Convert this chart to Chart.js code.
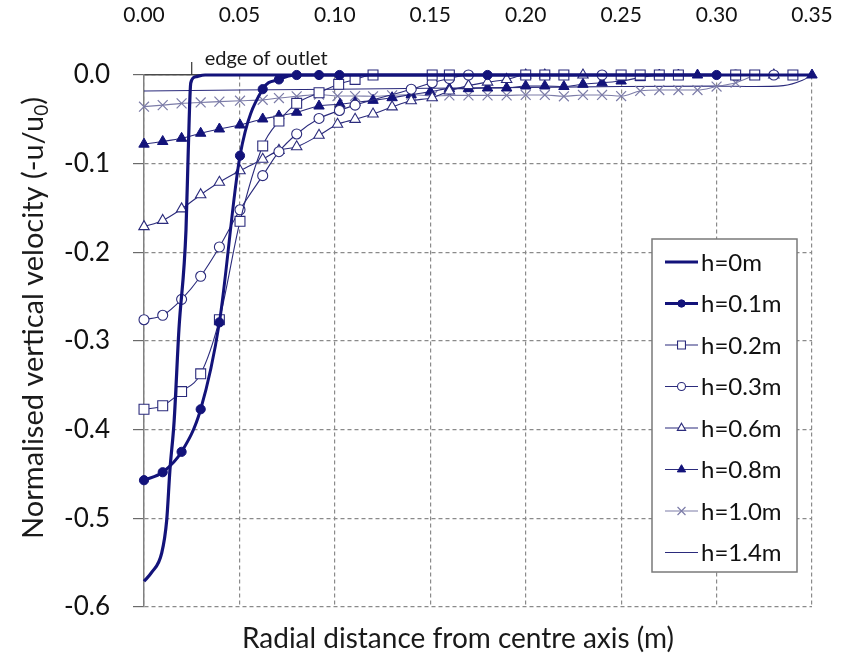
<!DOCTYPE html>
<html>
<head>
<meta charset="utf-8">
<script src="https://cdn.jsdelivr.net/npm/chart.js@4.4.1/dist/chart.umd.min.js"></script>
<style>
  html, body { margin: 0; padding: 0; background: #ffffff; }
  #wrap { width: 846px; height: 662px; }
</style>
</head>
<body>
<div id="wrap"><canvas id="c" width="846" height="662"></canvas></div>
<script>
// ---------- data ----------
const xTickLabels = ['0.00','0.05','0.10','0.15','0.20','0.25','0.30','0.35'];
const yTickLabels = ['0.0','-0.1','-0.2','-0.3','-0.4','-0.5','-0.6'];
const seriesNames = ['h=0m','h=0.1m','h=0.2m','h=0.3m','h=0.6m','h=0.8m','h=1.0m','h=1.4m'];
const xTitle = 'Radial distance from centre axis (m)';
const yTitleMain = 'Normalised vertical velocity (-u/u';
const yTitleSub = '0';
const yTitleEnd = ')';
const edgeLabel = 'edge of outlet';
const edgeX = 0.025;

const h00X = [0, 0.004, 0.0093, 0.0119, 0.0136, 0.0158, 0.0183, 0.022, 0.0232, 0.0245, 0.027, 0.032, 0.06, 0.35];
const h00Y = [-0.571, -0.561, -0.539, -0.502, -0.445, -0.39, -0.287, -0.175, -0.085, -0.009, -0.002, 0, 0, 0];

const h01X = [0, 0.0098, 0.0197, 0.0297, 0.0395, 0.0503, 0.0622, 0.0707, 0.080, 0.0917, 0.1024, 0.18, 0.30];
const h01Y = [-0.457, -0.448, -0.425, -0.377, -0.279, -0.091, -0.016, -0.005, 0, 0, 0, 0, 0];

const h02X = [0, 0.0098, 0.0197, 0.0297, 0.0395, 0.0503, 0.0622, 0.0707, 0.080, 0.0917, 0.102, 0.1106, 0.12, 0.151, 0.16, 0.20, 0.21, 0.22, 0.25, 0.26, 0.27, 0.28, 0.31, 0.32, 0.34];
const h02Y = [-0.377, -0.373, -0.357, -0.337, -0.276, -0.165, -0.080, -0.052, -0.032, -0.020, -0.0105, -0.005, 0, 0, 0, 0, 0, 0, 0, 0, 0, 0, 0, 0, 0];

const h03X = [0, 0.0098, 0.0197, 0.0297, 0.0395, 0.0503, 0.0622, 0.0707, 0.080, 0.0917, 0.1024, 0.1106, 0.140, 0.151, 0.160, 0.170, 0.24, 0.31, 0.33];
const h03Y = [-0.276, -0.271, -0.253, -0.227, -0.194, -0.152, -0.1135, -0.0865, -0.0665, -0.049, -0.040, -0.034, -0.016, -0.0087, -0.004, 0, 0, 0, 0];

const h06X = [0, 0.0098, 0.0197, 0.0297, 0.0395, 0.0503, 0.0622, 0.0707, 0.080, 0.0917, 0.1014, 0.1106, 0.12, 0.13, 0.14, 0.151, 0.16, 0.17, 0.18, 0.19, 0.20, 0.21, 0.23, 0.33];
const h06Y = [-0.171, -0.164, -0.151, -0.135, -0.121, -0.108, -0.095, -0.085, -0.081, -0.068, -0.0556, -0.050, -0.044, -0.036, -0.029, -0.0256, -0.018, -0.012, -0.008, -0.005, 0, 0, 0, 0];

const h08X = [0, 0.0098, 0.0197, 0.0297, 0.0395, 0.0503, 0.0622, 0.0707, 0.080, 0.0917, 0.1027, 0.1106, 0.12, 0.13, 0.14, 0.15, 0.16, 0.17, 0.18, 0.19, 0.20, 0.21, 0.22, 0.23, 0.24, 0.25, 0.26, 0.27, 0.28, 0.29, 0.35];
const h08Y = [-0.078, -0.075, -0.0714, -0.0657, -0.0609, -0.0564, -0.0496, -0.0462, -0.042, -0.035, -0.033, -0.031, -0.0286, -0.0256, -0.022, -0.019, -0.0154, -0.0154, -0.0146, -0.0146, -0.0124, -0.0124, -0.013, -0.0105, -0.0087, -0.0068, -0.003, 0, 0, 0, 0];

const h10X = [0, 0.0098, 0.0197, 0.0297, 0.0395, 0.0503, 0.0622, 0.0707, 0.080, 0.0917, 0.1014, 0.1106, 0.12, 0.13, 0.14, 0.151, 0.16, 0.17, 0.18, 0.19, 0.20, 0.21, 0.22, 0.23, 0.24, 0.25, 0.26, 0.27, 0.28, 0.29, 0.30, 0.31, 0.32];
const h10Y = [-0.0357, -0.034, -0.032, -0.031, -0.030, -0.029, -0.028, -0.026, -0.024, -0.022, -0.0237, -0.0237, -0.024, -0.023, -0.022, -0.0237, -0.023, -0.023, -0.023, -0.023, -0.0225, -0.0225, -0.024, -0.0225, -0.0225, -0.0237, -0.018, -0.017, -0.017, -0.017, -0.013, -0.0087, 0];

const h14X = [0, 0.05, 0.10, 0.15, 0.20, 0.25, 0.30, 0.32, 0.335, 0.345, 0.35];
const h14Y = [-0.018, -0.017, -0.016, -0.015, -0.014, -0.013, -0.0125, -0.013, -0.012, -0.006, 0];

// ---------- styling ----------
const NAVY = '#13137a';
const THIN = '#2b2b7c';
const XCOL = '#7c7ca8';
const FONT = 'Lato, "Open Sans", "DejaVu Sans", sans-serif';

function pts(xs, ys) { return xs.map((v, i) => ({ x: v, y: ys[i] })); }

const styles = [
  { data: pts(h00X, h00Y), borderColor: NAVY, borderWidth: 3.2, pointRadius: 0, pointStyle: false },
  { data: pts(h01X, h01Y), borderColor: NAVY, borderWidth: 3, pointStyle: 'circle', pointRadius: 4.6, pointBackgroundColor: NAVY, pointBorderColor: NAVY, pointBorderWidth: 1 },
  { data: pts(h02X, h02Y), borderColor: THIN, borderWidth: 1.1, pointStyle: 'rect', pointRadius: 7, pointBackgroundColor: '#ffffff', pointBorderColor: THIN, pointBorderWidth: 1.1 },
  { data: pts(h03X, h03Y), borderColor: THIN, borderWidth: 1.1, pointStyle: 'circle', pointRadius: 5, pointBackgroundColor: '#ffffff', pointBorderColor: THIN, pointBorderWidth: 1.1 },
  { data: pts(h06X, h06Y), borderColor: THIN, borderWidth: 1.1, pointStyle: 'triangle', pointRadius: 6, pointBackgroundColor: '#ffffff', pointBorderColor: THIN, pointBorderWidth: 1.1 },
  { data: pts(h08X, h08Y), borderColor: THIN, borderWidth: 1.1, pointStyle: 'triangle', pointRadius: 6, pointBackgroundColor: NAVY, pointBorderColor: NAVY, pointBorderWidth: 1 },
  { data: pts(h10X, h10Y), borderColor: XCOL, borderWidth: 1.1, pointStyle: 'crossRot', pointRadius: 7, pointBackgroundColor: XCOL, pointBorderColor: XCOL, pointBorderWidth: 1.2 },
  { data: pts(h14X, h14Y), borderColor: THIN, borderWidth: 1.1, pointRadius: 0, pointStyle: false }
];

const datasets = styles.map((s, i) => Object.assign({
  label: seriesNames[i],
  showLine: true,
  fill: false,
  cubicInterpolationMode: 'monotone',
  clip: false,
  pointHoverRadius: 0
}, s));

// ---------- drawing helpers for the legend ----------
function marker(ctx, style, r, x, y, fillCol, strokeCol, lw) {
  ctx.save();
  ctx.fillStyle = fillCol; ctx.strokeStyle = strokeCol; ctx.lineWidth = lw;
  ctx.beginPath();
  if (style === 'circle') {
    ctx.arc(x, y, r, 0, Math.PI * 2);
    ctx.fill(); ctx.stroke();
  } else if (style === 'rect') {
    const s = r * Math.SQRT1_2;
    ctx.rect(x - s, y - s, 2 * s, 2 * s);
    ctx.fill(); ctx.stroke();
  } else if (style === 'triangle') {
    ctx.moveTo(x, y - r);
    ctx.lineTo(x + r * 0.866, y + r * 0.5);
    ctx.lineTo(x - r * 0.866, y + r * 0.5);
    ctx.closePath();
    ctx.fill(); ctx.stroke();
  } else if (style === 'crossRot') {
    const s = r * Math.SQRT1_2;
    ctx.moveTo(x - s, y - s); ctx.lineTo(x + s, y + s);
    ctx.moveTo(x - s, y + s); ctx.lineTo(x + s, y - s);
    ctx.stroke();
  }
  ctx.restore();
}

const overlay = {
  id: 'overlay',
  afterDraw(chart) {
    const { ctx, chartArea, scales } = chart;
    const xs = scales.x;
    ctx.save();

    // edge of outlet marker
    const ex = xs.getPixelForValue(edgeX);
    ctx.strokeStyle = '#333333';
    ctx.lineWidth = 1.2;
    ctx.beginPath();
    ctx.moveTo(ex, chartArea.top - 13);
    ctx.lineTo(ex, chartArea.top);
    ctx.stroke();
    ctx.fillStyle = '#1a1a1a';
    ctx.font = '20px ' + FONT;
    ctx.textAlign = 'left';
    ctx.textBaseline = 'alphabetic';
    ctx.fillText(edgeLabel, ex + 13, chartArea.top - 10);

    // x title (bottom)
    ctx.font = '28px ' + FONT;
    ctx.textAlign = 'center';
    ctx.textBaseline = 'middle';
    ctx.fillText(xTitle, 458, 639);

    // y title (rotated, with subscript)
    ctx.save();
    ctx.translate(31, 318);
    ctx.rotate(-Math.PI / 2);
    const mainFont = '29px ' + FONT;
    const subFont = '19px ' + FONT;
    ctx.font = mainFont;
    const w1 = ctx.measureText(yTitleMain).width;
    const w3 = ctx.measureText(yTitleEnd).width;
    ctx.font = subFont;
    const w2 = ctx.measureText(yTitleSub).width;
    let sx = -(w1 + w2 + w3) / 2;
    ctx.textAlign = 'left';
    ctx.textBaseline = 'alphabetic';
    ctx.font = mainFont;
    ctx.fillText(yTitleMain, sx, 12);
    sx += w1;
    ctx.font = subFont;
    ctx.fillText(yTitleSub, sx, 17);
    sx += w2;
    ctx.font = mainFont;
    ctx.fillText(yTitleEnd, sx, 12);
    ctx.restore();

    // legend box
    const bx = chartArea.right - 160, by = chartArea.top + 164, bw = 145, bh = 333;
    ctx.fillStyle = '#ffffff';
    ctx.fillRect(bx, by, bw, bh);
    ctx.strokeStyle = '#7a7a7a';
    ctx.lineWidth = 1.5;
    ctx.strokeRect(bx, by, bw, bh);
    const rowH = 41.5;
    chart.data.datasets.forEach((ds, i) => {
      const cy = by + 23 + i * rowH;
      const lx1 = bx + 13, lx2 = bx + 46;
      ctx.strokeStyle = ds.borderColor;
      ctx.lineWidth = ds.borderWidth;
      ctx.beginPath();
      ctx.moveTo(lx1, cy); ctx.lineTo(lx2, cy);
      ctx.stroke();
      if (ds.pointStyle && ds.pointRadius > 0) {
        marker(ctx, ds.pointStyle, ds.pointRadius * 0.8, (lx1 + lx2) / 2, cy,
          ds.pointBackgroundColor, ds.pointBorderColor, ds.pointBorderWidth);
      }
      ctx.fillStyle = '#111111';
      ctx.font = '24px ' + FONT;
      ctx.textAlign = 'left';
      ctx.textBaseline = 'middle';
      ctx.fillText(ds.label, bx + 49, cy + 1);
    });
    ctx.restore();
  }
};

new Chart(document.getElementById('c'), {
  type: 'scatter',
  data: { datasets },
  options: {
    responsive: false,
    animation: false,
    events: [],
    layout: { padding: { left: 0, right: 34, top: 0, bottom: 55 } },
    plugins: { legend: { display: false }, tooltip: { enabled: false }, title: { display: false } },
    scales: {
      x: {
        type: 'linear', position: 'top', min: 0, max: 0.35,
        afterFit(s) { s.height = 75; s.paddingLeft = 0; s.paddingRight = 0; },
        afterBuildTicks(s) { s.ticks = xTickLabels.map(t => ({ value: parseFloat(t) })); },
        ticks: {
          callback: (v) => xTickLabels.find(t => Math.abs(parseFloat(t) - v) < 1e-9) || '',
          font: { family: FONT, size: 21 }, color: '#111111', padding: 47,
          maxRotation: 0, autoSkip: false
        },
        grid: { color: '#8a8a8a', lineWidth: 1.2, drawTicks: false, borderDash: [4, 3] },
        border: { display: true, color: '#4a4a4a', width: 1.5, dash: [4, 3] }
      },
      y: {
        type: 'linear', position: 'left', min: -0.6, max: 0,
        afterFit(s) { s.width = 144; s.paddingTop = 0; s.paddingBottom = 0; },
        afterBuildTicks(s) { s.ticks = yTickLabels.map(t => ({ value: parseFloat(t) })); },
        ticks: {
          callback: (v) => yTickLabels.find(t => Math.abs(parseFloat(t) - v) < 1e-9) || '',
          font: { family: FONT, size: 26 }, color: '#111111', padding: 23, autoSkip: false
        },
        grid: { color: '#8a8a8a', lineWidth: 1.2, drawTicks: true, tickLength: 11, tickColor: '#6a6a6a', tickWidth: 1.2, borderDash: [4, 3] },
        border: { display: true, color: '#808080', width: 1.5, dash: [4, 3] }
      }
    }
  },
  plugins: [overlay]
});
</script>
</body>
</html>
